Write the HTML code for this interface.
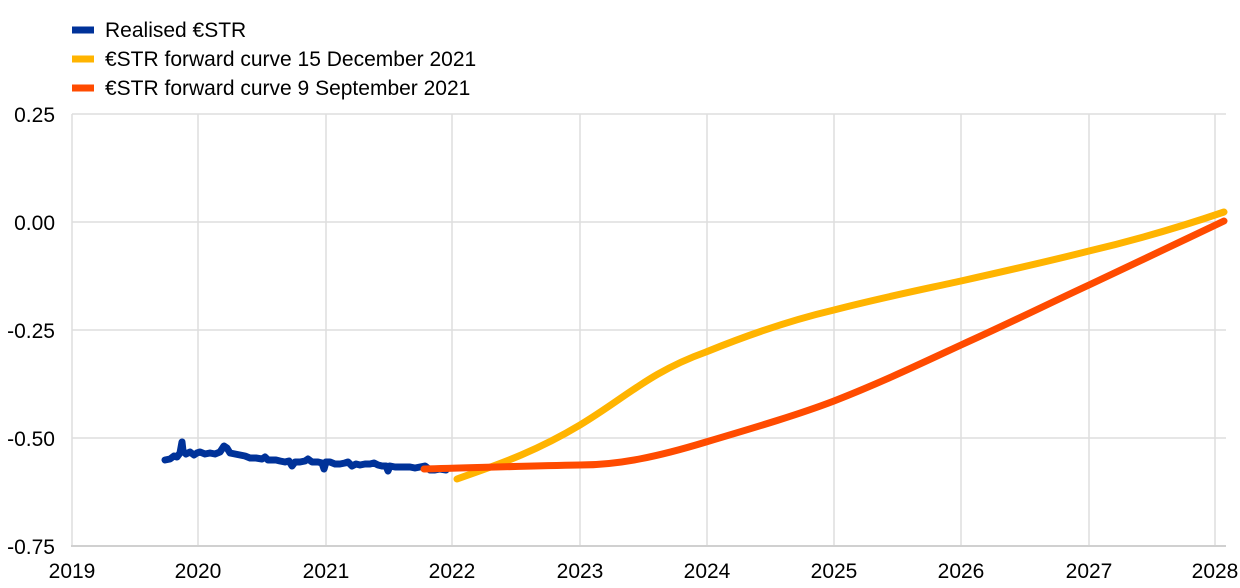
<!DOCTYPE html>
<html><head><meta charset="utf-8"><style>body{margin:0;background:#fff}svg{display:block}text{font-family:"Liberation Sans",Arial,sans-serif;font-size:21px;fill:#000}</style></head><body>
<svg width="1240" height="588" viewBox="0 0 1240 588">
<g stroke="#dedede" stroke-width="1.5">
<line x1="72" y1="114" x2="1226" y2="114"/><line x1="72" y1="222" x2="1226" y2="222"/><line x1="72" y1="330" x2="1226" y2="330"/><line x1="72" y1="438" x2="1226" y2="438"/>
<line x1="72" y1="114" x2="72" y2="546"/>
<line x1="198" y1="114" x2="198" y2="546"/><line x1="326" y1="114" x2="326" y2="546"/><line x1="452" y1="114" x2="452" y2="546"/><line x1="580" y1="114" x2="580" y2="546"/><line x1="707" y1="114" x2="707" y2="546"/><line x1="834" y1="114" x2="834" y2="546"/><line x1="961" y1="114" x2="961" y2="546"/><line x1="1089" y1="114" x2="1089" y2="546"/><line x1="1215" y1="114" x2="1215" y2="546"/>
</g>
<line x1="71" y1="546" x2="1226" y2="546" stroke="#d0d0d0" stroke-width="2"/>
<g text-anchor="end"><text x="55" y="122">0.25</text><text x="55" y="230">0.00</text><text x="55" y="338">-0.25</text><text x="55" y="446">-0.50</text><text x="55" y="554">-0.75</text></g>
<g text-anchor="middle"><text x="72" y="578">2019</text><text x="198" y="578">2020</text><text x="326" y="578">2021</text><text x="452" y="578">2022</text><text x="580" y="578">2023</text><text x="707" y="578">2024</text><text x="834" y="578">2025</text><text x="961" y="578">2026</text><text x="1089" y="578">2027</text><text x="1215" y="578">2028</text></g>
<polyline fill="none" stroke="#003299" stroke-width="7" stroke-linejoin="round" stroke-linecap="round" points="165,460 170,459 174,456 177,457 180,453 182,442 183,451 186,454 190,452 194,455 197,453 200,452 205,454 210,453 215,454 220,452 224,446 227,448 230,453 235,454 240,455 245,456 250,458 256,458 262,459 265,457 268,460 272,460 276,460 280,461 285,462 289,461 292,466 295,462 300,462 305,461 308,459 312,462 318,462 322,463 324,469 326,462 330,462 335,464 340,464 345,463 348,462 352,466 356,464 360,465 365,464 370,464 374,463 378,465 382,466 386,466 388,471 390,466 395,467 400,467 405,467 410,467 415,468 420,467 425,466 430,470 435,470 440,469 446,470"/>
<path fill="none" stroke="#ffb400" stroke-width="7" stroke-linecap="round" d="M457,479 C490,467 530,455 580,425 C625,398 650,372 706,352 C760,330 800,318 834,310 C880,298 920,290 961,281 C1010,270 1050,261 1089,251 C1140,239 1180,227 1224,212"/>
<path fill="none" stroke="#ff4b00" stroke-width="7" stroke-linecap="round" d="M424,469 C470,468 520,466 580,465 C620,465 660,456 706,442 C760,426 800,414 834,401 C880,383 920,364 961,345 C1010,323 1050,303 1089,285 C1140,261 1180,242 1224,221"/>
<g stroke-width="7"><line x1="72" y1="30" x2="94" y2="30" stroke="#003299"/><line x1="72" y1="59" x2="94" y2="59" stroke="#ffb400"/><line x1="72" y1="88" x2="94" y2="88" stroke="#ff4b00"/></g>
<text x="105" y="37">Realised €STR</text><text x="105" y="66">€STR forward curve 15 December 2021</text><text x="105" y="95">€STR forward curve 9 September 2021</text>
</svg></body></html>
